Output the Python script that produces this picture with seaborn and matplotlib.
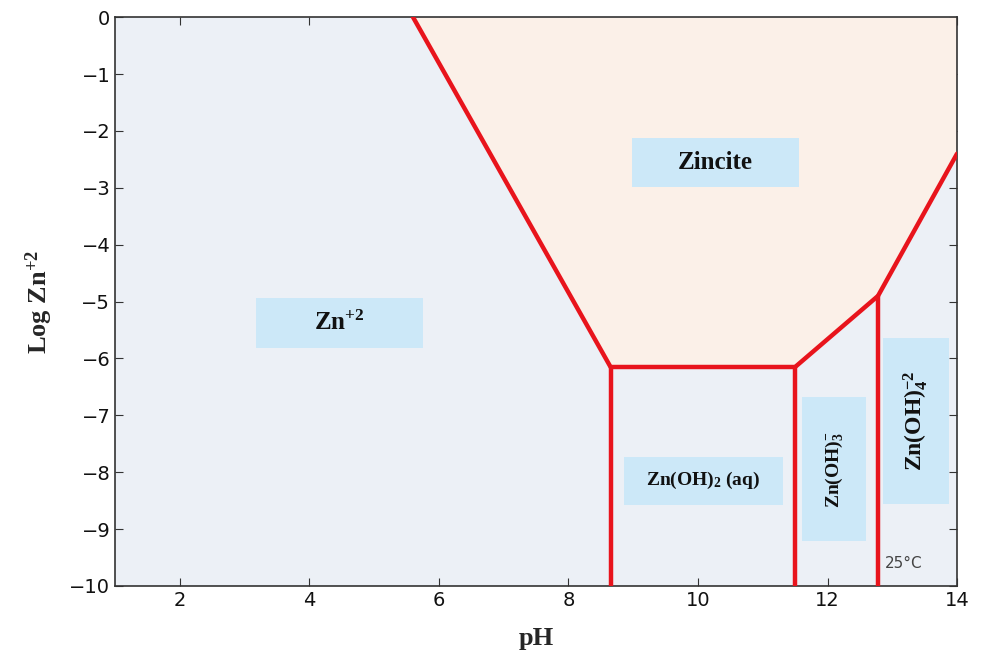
import matplotlib
matplotlib.use("Agg")
import matplotlib.pyplot as plt
import seaborn as sns
from matplotlib.patches import Rectangle, Polygon

# boundary data
boundary_ph = [5.6, 8.65, 11.5, 12.78, 14.0]
boundary_log = [0.0, -6.15, -6.15, -4.9, -2.4]
vertical_ph = [8.65, 11.5, 12.78]
vertical_top = [-6.15, -6.15, -4.9]

# region labels: text, centre x, centre y, box width, box height, rotation
region_labels = ["Zn$^{+2}$", "Zincite", "Zn(OH)$_2$ (aq)", "Zn(OH)$_3^{-}$", "Zn(OH)$_4^{-2}$"]
label_x = [4.47, 10.27, 10.08, 12.1, 13.36]
label_y = [-5.38, -2.56, -8.15, -7.95, -7.1]
box_w = [2.58, 2.57, 2.45, 0.99, 1.02]
box_h = [0.88, 0.86, 0.85, 2.53, 2.92]
label_rot = [0, 0, 0, 90, 90]
label_size = [18, 18, 14, 14, 17]

sns.set_style("ticks")
plt.rcParams["font.family"] = ["DejaVu Sans"]
plt.rcParams["mathtext.fontset"] = "custom"
plt.rcParams["mathtext.rm"] = "Liberation Serif:bold"
plt.rcParams["mathtext.it"] = "Liberation Serif:bold"
plt.rcParams["mathtext.bf"] = "Liberation Serif:bold"
plt.rcParams["mathtext.default"] = "rm"

fig = plt.figure(figsize=(9.84, 6.61), dpi=100)
ax = fig.add_axes([0.117, 0.1135, 0.8556, 0.8605])

ax.set_xlim(1, 14)
ax.set_ylim(-10, 0)
ax.set_facecolor("#ecf0f6")

# zincite field above the boundary
zinc_poly = list(zip(boundary_ph, boundary_log)) + [(14.0, 0.0)]
ax.add_patch(Polygon(zinc_poly, closed=True, facecolor="#fbf0e8", edgecolor="none", zorder=1))

red = "#e8141c"
sns.lineplot(x=boundary_ph, y=boundary_log, sort=False, estimator=None,
             color=red, linewidth=3.2, ax=ax, zorder=4)
for xv, yt in zip(vertical_ph, vertical_top):
    sns.lineplot(x=[xv, xv], y=[-10, yt], sort=False, estimator=None,
                 color=red, linewidth=3.2, ax=ax, zorder=4)

for txt, cx, cy, w, h, rot, fs in zip(region_labels, label_x, label_y, box_w, box_h,
                                      label_rot, label_size):
    ax.add_patch(Rectangle((cx - w / 2, cy - h / 2), w, h, facecolor="#cce8f8",
                           edgecolor="none", zorder=2))
    ax.text(cx, cy, txt, rotation=rot, ha="center", va="center", fontsize=fs,
            fontweight="bold", family="Liberation Serif", color="#111111", zorder=3)

ax.text(12.88, -9.6, "25°C", fontsize=11, color="#444444", ha="left", va="center", zorder=3)

ax.set_xticks([2, 4, 6, 8, 10, 12, 14])
ax.set_yticks(range(-10, 1))
ax.tick_params(direction="in", top=True, right=True, labelsize=14, length=6,
               color="#333333", labelcolor="#111111")
for sp in ax.spines.values():
    sp.set_visible(True)
    sp.set_color("#333333")
    sp.set_linewidth(1.2)

ax.set_xlabel("pH", family="Liberation Serif", fontweight="bold", fontsize=19, labelpad=12)
ax.set_ylabel("Log Zn$^{+2}$", family="Liberation Serif", fontweight="bold", fontsize=19, labelpad=10)

fig.savefig("out.png", dpi=100)
